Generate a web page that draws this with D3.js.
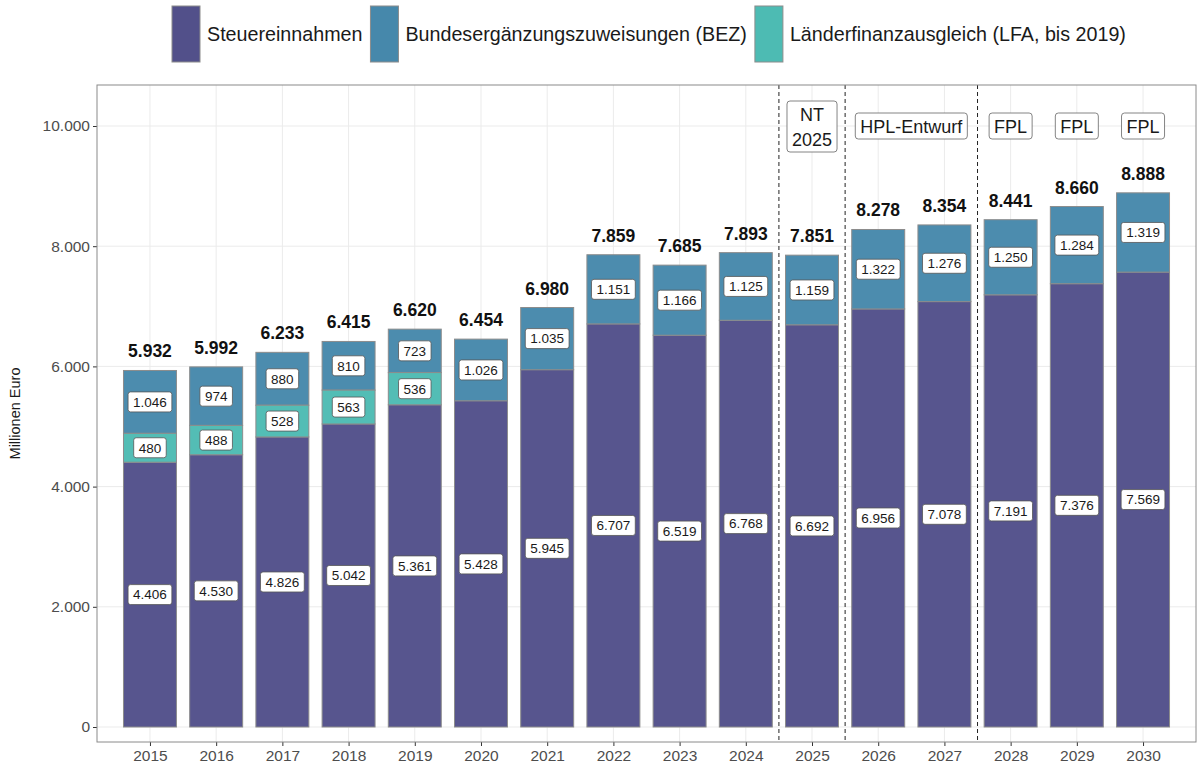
<!DOCTYPE html>
<html>
<head>
<meta charset="utf-8">
<title>Einnahmen</title>
<script src="https://cdn.jsdelivr.net/npm/d3@7"></script>
<style>
    body{ margin:0; background:#fff; }
    svg{ font-family:"Liberation Sans", Arial, sans-serif; }
    .grid line{ stroke:#ebebeb; stroke-width:1px; }
    .axis text{ fill:#4d4d4d; font-size:15.5px; }
    .axis line{ stroke:#333; }
    .axis path{ display:none; }
</style>
</head>
<body>
<div id="chart"></div>
<script>
// Daten (Millionen Euro)
var years   = ["2015","2016","2017","2018","2019","2020","2021","2022","2023","2024","2025","2026","2027","2028","2029","2030"];
var steuer  = [4406,4530,4826,5042,5361,5428,5945,6707,6519,6768,6692,6956,7078,7191,7376,7569];
var lfa     = [480,488,528,563,536,0,0,0,0,0,0,0,0,0,0,0];
var bez     = [1046,974,880,810,723,1026,1035,1151,1166,1125,1159,1322,1276,1250,1284,1319];
var totals  = [5932,5992,6233,6415,6620,6454,6980,7859,7685,7893,7851,8278,8354,8441,8660,8888];
var yTicks  = [0,2000,4000,6000,8000,10000];
var seriesNames  = ["Steuereinnahmen","Bundesergänzungszuweisungen (BEZ)","Länderfinanzausgleich (LFA, bis 2019)"];
var seriesColors = ["#52508a","#4688ab","#4dbbb3"];
// Trennlinien zwischen Jahren, Beschriftungsboxen
var dividers = [["2024","2025"],["2025","2026"],["2027","2028"]];
var phases   = [
    {from:"2025", to:"2025", lines:["NT","2025"]},
    {from:"2026", to:"2027", lines:["HPL-Entwurf"]},
    {from:"2028", to:"2028", lines:["FPL"]},
    {from:"2029", to:"2029", lines:["FPL"]},
    {from:"2030", to:"2030", lines:["FPL"]}
];

var width = 1203, height = 773;
var panel = {left:97, right:1196, top:85, bottom:742};

var de = d3.formatLocale({decimal:",", thousands:".", grouping:[3], currency:["","€"]});
var fmt = de.format(",d");

var svg = d3.select("#chart").append("svg")
            .attr("width",width)
            .attr("height",height);

var x = d3.scalePoint()
          .domain(years)
          .range([panel.left,panel.right])
          .padding(0.8);
var step = x.step();
var barW = step*0.8;

var y = d3.scaleLinear()
          .domain([0,10000])
          .range([727,126]);

// Hintergrund + Gitter
svg.append("rect")
   .attr("x",panel.left).attr("y",panel.top)
   .attr("width",panel.right-panel.left).attr("height",panel.bottom-panel.top)
   .attr("fill","#fff");

var grid = svg.append("g").attr("class","grid");
grid.selectAll(".gy").data(yTicks).enter().append("line")
    .attr("x1",panel.left).attr("x2",panel.right)
    .attr("y1",function(d){return y(d);}).attr("y2",function(d){return y(d);});
grid.selectAll(".gx").data(years).enter().append("line")
    .attr("y1",panel.top).attr("y2",panel.bottom)
    .attr("x1",function(d){return x(d);}).attr("x2",function(d){return x(d);});

// gestapelte Balken
var stackData = years.map(function(yr,i){
    return {year:yr, s:steuer[i], l:lfa[i], b:bez[i]};
});
var stack = d3.stack().keys(["s","b","l"]).order(function(){return [0,2,1];});
var layers = stack(stackData);
var colorOf = {s:seriesColors[0], b:seriesColors[1], l:seriesColors[2]};

var bars = svg.append("g");
layers.forEach(function(layer){
    bars.selectAll(null)
        .data(layer.filter(function(d){return d[1]-d[0]>0;}))
        .enter()
        .append("rect")
        .attr("x",function(d){return x(d.data.year)-barW/2;})
        .attr("y",function(d){return y(d[1]);})
        .attr("width",barW)
        .attr("height",function(d){return y(d[0])-y(d[1]);})
        .attr("fill",colorOf[layer.key])
        .attr("fill-opacity",0.97)
        .attr("stroke","#8c8c8c")
        .attr("stroke-width",1);
});

// Werte-Labels in den Segmenten
var labels = svg.append("g");
layers.forEach(function(layer){
    layer.forEach(function(d){
        var v = d[1]-d[0];
        if (v<=0) return;
        var cx = x(d.data.year), cy = y((d[0]+d[1])/2);
        var g = labels.append("g");
        var t = g.append("text")
                 .attr("x",cx).attr("y",cy)
                 .attr("text-anchor","middle")
                 .attr("dy","0.36em")
                 .attr("font-size","13.5px")
                 .attr("fill","#1a1a1a")
                 .text(fmt(v));
        var w = t.node().getComputedTextLength();
        g.insert("rect","text")
         .attr("x",cx-w/2-5).attr("y",cy-10)
         .attr("width",w+10).attr("height",20)
         .attr("rx",2.5)
         .attr("fill","#fff")
         .attr("stroke","#555")
         .attr("stroke-width",0.8);
    });
});

// Summen
svg.append("g").selectAll("text")
   .data(years)
   .enter()
   .append("text")
   .attr("x",function(d){return x(d);})
   .attr("y",function(d,i){return y(totals[i])-13;})
   .attr("text-anchor","middle")
   .attr("font-size","17.5px")
   .attr("font-weight","bold")
   .attr("fill","#111")
   .text(function(d,i){return fmt(totals[i]);});

// gestrichelte Trennlinien
svg.append("g").selectAll("line")
   .data(dividers)
   .enter()
   .append("line")
   .attr("x1",function(d){return (x(d[0])+x(d[1]))/2;})
   .attr("x2",function(d){return (x(d[0])+x(d[1]))/2;})
   .attr("y1",panel.top).attr("y2",panel.bottom)
   .attr("stroke","#222")
   .attr("stroke-width",1)
   .attr("stroke-dasharray","4,3");

// Phasen-Boxen
phases.forEach(function(p){
    var cx = (x(p.from)+x(p.to))/2;
    var lh = 25;
    var top = p.lines.length>1 ? 101 : 113;
    var g = svg.append("g");
    var maxW = 0;
    p.lines.forEach(function(s,k){
        var t = g.append("text")
                 .attr("x",cx)
                 .attr("y",top+lh/2+k*lh+1)
                 .attr("dy","0.36em")
                 .attr("text-anchor","middle")
                 .attr("font-size","18px")
                 .attr("fill","#1a1a1a")
                 .text(s);
        maxW = Math.max(maxW,t.node().getComputedTextLength());
    });
    g.insert("rect","text")
     .attr("x",cx-maxW/2-5).attr("y",top)
     .attr("width",maxW+10).attr("height",p.lines.length*lh+1)
     .attr("rx",3)
     .attr("fill","#fff")
     .attr("stroke","#666")
     .attr("stroke-width",0.8);
});

// Achsen
svg.append("g")
   .attr("class","axis")
   .attr("transform","translate("+panel.left+",0)")
   .call(d3.axisLeft(y).tickValues(yTicks).tickFormat(fmt).tickSize(4).tickPadding(3));
svg.append("g")
   .attr("class","axis")
   .attr("transform","translate(0,"+panel.bottom+")")
   .call(d3.axisBottom(x).tickSize(4).tickPadding(4));

// Rahmen
svg.append("rect")
   .attr("x",panel.left).attr("y",panel.top)
   .attr("width",panel.right-panel.left).attr("height",panel.bottom-panel.top)
   .attr("fill","none")
   .attr("stroke","#8a8a8a")
   .attr("stroke-width",1);

svg.append("text")
   .attr("transform","translate(20,"+((panel.top+panel.bottom)/2)+") rotate(-90)")
   .attr("text-anchor","middle")
   .attr("font-size","14.5px")
   .attr("fill","#1a1a1a")
   .text("Millionen Euro");

// Legende
var lx = 172;
seriesNames.forEach(function(n,i){
    svg.append("rect")
       .attr("x",lx).attr("y",6)
       .attr("width",28).attr("height",56)
       .attr("fill",seriesColors[i])
       .attr("stroke","#8c8c8c");
    var t = svg.append("text")
               .attr("x",lx+35).attr("y",34)
               .attr("dy","0.36em")
               .attr("font-size","19.7px")
               .attr("fill","#1a1a1a")
               .text(n);
    lx += 35 + t.node().getComputedTextLength() + 8;
});
</script>
</body>
</html>
